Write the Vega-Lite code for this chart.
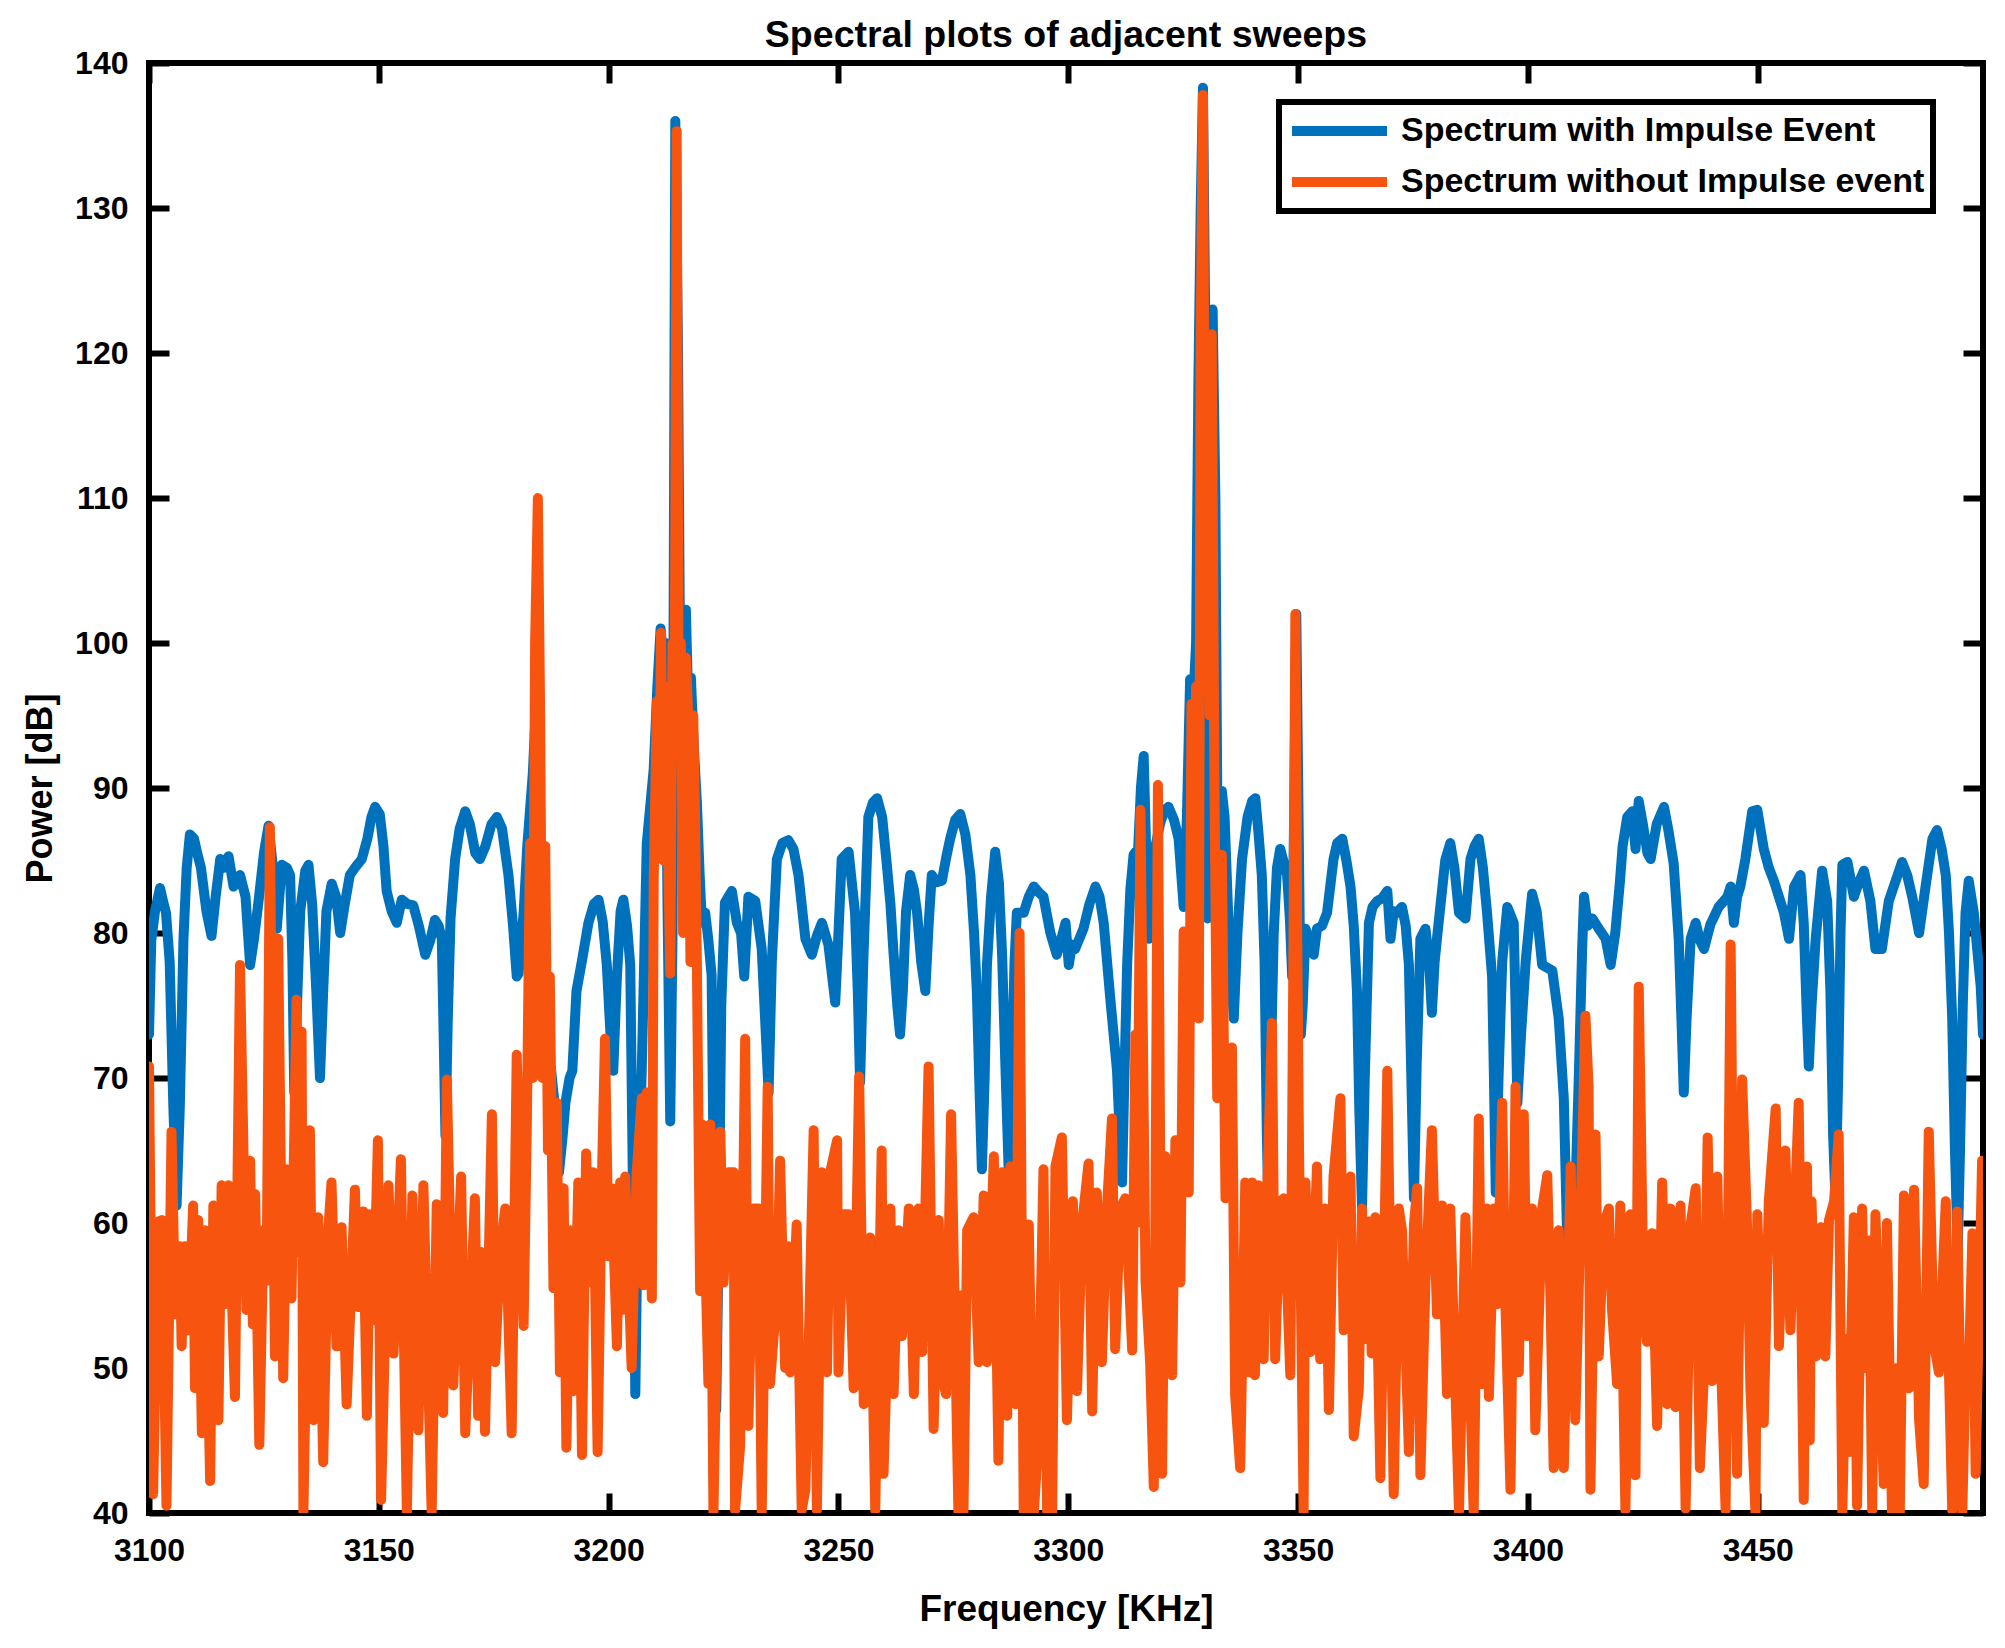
{
"$schema": "https://vega.github.io/schema/vega-lite/v6.json",
"width": 1834, "height": 1450,
"autosize": {"type": "none"},
"padding": {"left": 149, "top": 63, "right": 22, "bottom": 135},
"background": "white",
"title": {"text": "Spectral plots of adjacent sweeps", "fontSize": 37.5, "font": "Liberation Sans", "fontWeight": "bold", "color": "black", "anchor": "middle", "offset": -7},
"datasets": {
"blue": [
{"f":3100,"p":73},{"f":3100.5,"p":79.5},{"f":3101.3,"p":81.5},{"f":3102.4,"p":83.1},{"f":3103.2,"p":82},{"f":3103.7,"p":81.4},{"f":3104.5,"p":78},{"f":3105.3,"p":68},{"f":3106,"p":61.2},{"f":3106.7,"p":68},{"f":3107.5,"p":79.6},{"f":3108.2,"p":84.5},{"f":3108.9,"p":86.8},{"f":3109.8,"p":86.5},{"f":3110.5,"p":85.5},{"f":3111.3,"p":84.5},{"f":3112.5,"p":81.5},{"f":3113.6,"p":79.8},{"f":3114.5,"p":82.5},{"f":3115.5,"p":85.1},{"f":3116.4,"p":84.5},{"f":3117.3,"p":85.3},{"f":3118.4,"p":83.2},{"f":3119.8,"p":84},{"f":3121,"p":82.5},{"f":3122,"p":77.8},{"f":3122.8,"p":79.5},{"f":3123.8,"p":82.1},{"f":3125,"p":85.5},{"f":3126,"p":87.4},{"f":3126.8,"p":85},{"f":3127.8,"p":80.3},{"f":3128.9,"p":84.7},{"f":3130,"p":84.5},{"f":3130.7,"p":84},{"f":3131.2,"p":78},{"f":3131.6,"p":69},{"f":3132.2,"p":75},{"f":3132.9,"p":81.5},{"f":3134,"p":84.3},{"f":3134.7,"p":84.7},{"f":3135.5,"p":82},{"f":3136.4,"p":76},{"f":3137.2,"p":70},{"f":3137.9,"p":76},{"f":3138.6,"p":81.5},{"f":3139.75,"p":83.4},{"f":3140.7,"p":82.5},{"f":3141.6,"p":80},{"f":3142.6,"p":82},{"f":3143.7,"p":84},{"f":3144.8,"p":84.5},{"f":3146.3,"p":85.1},{"f":3147.5,"p":86.5},{"f":3148.4,"p":88},{"f":3149.2,"p":88.7},{"f":3150.2,"p":88.2},{"f":3151,"p":86},{"f":3151.7,"p":82.9},{"f":3152.8,"p":81.5},{"f":3153.9,"p":80.7},{"f":3155,"p":82.3},{"f":3156.2,"p":82},{"f":3157.5,"p":81.9},{"f":3158.7,"p":80.5},{"f":3160.1,"p":78.5},{"f":3161.2,"p":79.5},{"f":3162.2,"p":80.9},{"f":3163,"p":80.5},{"f":3163.7,"p":79.6},{"f":3164.1,"p":73},{"f":3164.5,"p":66},{"f":3165,"p":74},{"f":3165.6,"p":81},{"f":3166.6,"p":85.1},{"f":3167.6,"p":87.2},{"f":3168.8,"p":88.4},{"f":3169.8,"p":87.5},{"f":3171,"p":85.5},{"f":3172,"p":85.1},{"f":3173.2,"p":86},{"f":3174.5,"p":87.5},{"f":3175.7,"p":88},{"f":3176.8,"p":87.2},{"f":3178.2,"p":84},{"f":3179.2,"p":80.5},{"f":3180,"p":77},{"f":3180.4,"p":77.2},{"f":3181.5,"p":81.4},{"f":3182.3,"p":86},{"f":3182.9,"p":88.5},{"f":3183.5,"p":91},{"f":3184.1,"p":95},{"f":3184.6,"p":88},{"f":3185.2,"p":76},{"f":3185.8,"p":71},{"f":3186.6,"p":72.5},{"f":3187.5,"p":70.5},{"f":3188.3,"p":68},{"f":3189.2,"p":63.5},{"f":3190,"p":66},{"f":3190.6,"p":68.3},{"f":3191.5,"p":70},{"f":3192.1,"p":70.5},{"f":3193,"p":76},{"f":3194.2,"p":78.1},{"f":3195.6,"p":80.7},{"f":3196.8,"p":82},{"f":3197.8,"p":82.3},{"f":3198.7,"p":80.8},{"f":3199.6,"p":77.8},{"f":3200.4,"p":73},{"f":3201,"p":70.5},{"f":3201.8,"p":77},{"f":3202.6,"p":81.5},{"f":3203.2,"p":82.3},{"f":3204,"p":80.5},{"f":3204.7,"p":77.8},{"f":3205.3,"p":62},{"f":3205.8,"p":48.2},{"f":3206.3,"p":60},{"f":3207.2,"p":70.5},{"f":3208.3,"p":86.2},{"f":3209.8,"p":91.3},{"f":3210.6,"p":97},{"f":3211.3,"p":101},{"f":3211.8,"p":99},{"f":3212.3,"p":100},{"f":3212.8,"p":82},{"f":3213.4,"p":67},{"f":3213.9,"p":80},{"f":3214.5,"p":136},{"f":3215.1,"p":120},{"f":3215.6,"p":96},{"f":3216.2,"p":100},{"f":3216.8,"p":102.3},{"f":3217.3,"p":96},{"f":3217.9,"p":97.6},{"f":3218.5,"p":93},{"f":3219.2,"p":89},{"f":3219.8,"p":84},{"f":3220.3,"p":80.7},{"f":3221,"p":81.4},{"f":3221.7,"p":79.5},{"f":3222.4,"p":77.1},{"f":3222.9,"p":62},{"f":3223.4,"p":47.1},{"f":3224,"p":60},{"f":3224.5,"p":75},{"f":3225.3,"p":82.1},{"f":3226.8,"p":82.9},{"f":3227.9,"p":80.7},{"f":3228.8,"p":80},{"f":3229.5,"p":77},{"f":3230.4,"p":82.5},{"f":3231.9,"p":82.2},{"f":3233.3,"p":78.9},{"f":3234.2,"p":73},{"f":3234.8,"p":69},{"f":3235.5,"p":78},{"f":3236.6,"p":85.1},{"f":3237.8,"p":86.2},{"f":3239.1,"p":86.4},{"f":3240.2,"p":85.8},{"f":3241.3,"p":84},{"f":3242.8,"p":79.6},{"f":3244.2,"p":78.5},{"f":3245.3,"p":79.8},{"f":3246.4,"p":80.7},{"f":3247.8,"p":79.2},{"f":3249.3,"p":75.2},{"f":3250,"p":80},{"f":3250.7,"p":85.1},{"f":3252.2,"p":85.6},{"f":3253.6,"p":81.4},{"f":3254.2,"p":76},{"f":3254.7,"p":69.7},{"f":3255.4,"p":78},{"f":3256.5,"p":88},{"f":3257.5,"p":89},{"f":3258.4,"p":89.3},{"f":3259.5,"p":88},{"f":3260.5,"p":84.8},{"f":3261.3,"p":82},{"f":3262,"p":78.5},{"f":3262.8,"p":75},{"f":3263.4,"p":73},{"f":3264,"p":76},{"f":3264.7,"p":81.5},{"f":3265.6,"p":84},{"f":3266.4,"p":83},{"f":3267.1,"p":81.4},{"f":3268,"p":78},{"f":3268.9,"p":76},{"f":3269.6,"p":80.5},{"f":3270.3,"p":84},{"f":3271.4,"p":83.5},{"f":3272.5,"p":83.6},{"f":3273.5,"p":85.3},{"f":3274.3,"p":86.5},{"f":3275.4,"p":87.8},{"f":3276.5,"p":88.2},{"f":3277.6,"p":86.8},{"f":3278.7,"p":84},{"f":3279.5,"p":80},{"f":3280.1,"p":76},{"f":3280.7,"p":69},{"f":3281.2,"p":63.7},{"f":3281.8,"p":70},{"f":3282.3,"p":77.8},{"f":3283.2,"p":82.5},{"f":3284.1,"p":85.6},{"f":3284.9,"p":83.5},{"f":3285.6,"p":78.5},{"f":3286.3,"p":71},{"f":3287,"p":63.9},{"f":3287.7,"p":70},{"f":3288.3,"p":78},{"f":3288.8,"p":81.4},{"f":3290.3,"p":81.4},{"f":3291.4,"p":82.5},{"f":3292.5,"p":83.2},{"f":3293.6,"p":82.8},{"f":3294.6,"p":82.5},{"f":3296.1,"p":80},{"f":3297.5,"p":78.5},{"f":3298.4,"p":79.5},{"f":3299.4,"p":80.7},{"f":3300.1,"p":77.8},{"f":3300.8,"p":79.2},{"f":3301.5,"p":78.9},{"f":3303.3,"p":80.3},{"f":3304.6,"p":82},{"f":3305.9,"p":83.2},{"f":3306.8,"p":82.5},{"f":3307.7,"p":80.7},{"f":3309.1,"p":75.6},{"f":3310.6,"p":70.5},{"f":3311.2,"p":66},{"f":3311.7,"p":62.8},{"f":3312.2,"p":70},{"f":3312.8,"p":77.8},{"f":3313.5,"p":83},{"f":3314.2,"p":85.4},{"f":3315.2,"p":85.8},{"f":3315.8,"p":90},{"f":3316.4,"p":92.2},{"f":3317,"p":85},{"f":3317.5,"p":79.6},{"f":3318,"p":83},{"f":3318.6,"p":85.4},{"f":3320,"p":87.6},{"f":3321,"p":88.5},{"f":3321.8,"p":88.7},{"f":3323,"p":87.8},{"f":3324,"p":86.5},{"f":3325.1,"p":81.8},{"f":3325.8,"p":88},{"f":3326.5,"p":97.5},{"f":3327.2,"p":96},{"f":3327.8,"p":100},{"f":3328.3,"p":118},{"f":3328.8,"p":130},{"f":3329.3,"p":138.3},{"f":3329.8,"p":122},{"f":3330.3,"p":81},{"f":3330.8,"p":100},{"f":3331.4,"p":123},{"f":3332,"p":110},{"f":3332.5,"p":85},{"f":3333,"p":88},{"f":3333.4,"p":89.8},{"f":3334,"p":88},{"f":3334.9,"p":80.3},{"f":3335.5,"p":77},{"f":3336,"p":74.1},{"f":3336.8,"p":80},{"f":3337.8,"p":85.1},{"f":3339,"p":88},{"f":3340,"p":89.1},{"f":3340.7,"p":89.3},{"f":3341.4,"p":86.8},{"f":3342.1,"p":84},{"f":3342.7,"p":78},{"f":3343.2,"p":66},{"f":3343.5,"p":61.5},{"f":3344,"p":70},{"f":3344.7,"p":80},{"f":3345.4,"p":84.5},{"f":3346.1,"p":85.8},{"f":3347.6,"p":84},{"f":3348.2,"p":81},{"f":3348.7,"p":77},{"f":3349.2,"p":90},{"f":3349.6,"p":102},{"f":3350.1,"p":88},{"f":3350.6,"p":73},{"f":3351,"p":75},{"f":3351.6,"p":80.3},{"f":3352.5,"p":79.5},{"f":3353.4,"p":78.5},{"f":3354.1,"p":80.3},{"f":3355.2,"p":80.5},{"f":3356.3,"p":81.4},{"f":3357.7,"p":85.1},{"f":3358.5,"p":86.2},{"f":3359.6,"p":86.5},{"f":3360.5,"p":85},{"f":3361.4,"p":83.2},{"f":3362.1,"p":80.5},{"f":3362.8,"p":76},{"f":3363.3,"p":68},{"f":3363.9,"p":61},{"f":3364.5,"p":70},{"f":3365.4,"p":80.7},{"f":3366.2,"p":81.8},{"f":3367.2,"p":82.2},{"f":3368.3,"p":82.4},{"f":3369.4,"p":82.9},{"f":3370.1,"p":79.6},{"f":3370.8,"p":81.5},{"f":3371.5,"p":81.4},{"f":3372.6,"p":81.8},{"f":3373.4,"p":80.5},{"f":3374.1,"p":77.8},{"f":3374.7,"p":69},{"f":3375.2,"p":61.7},{"f":3375.8,"p":71},{"f":3376.6,"p":79.6},{"f":3377.7,"p":80.3},{"f":3378.5,"p":78},{"f":3379.1,"p":74.5},{"f":3379.7,"p":78},{"f":3380.2,"p":79.6},{"f":3381,"p":82},{"f":3382,"p":85},{"f":3383.1,"p":86.2},{"f":3384,"p":84.5},{"f":3385,"p":81.4},{"f":3386.4,"p":81},{"f":3387.5,"p":85.1},{"f":3388.4,"p":86},{"f":3389.3,"p":86.5},{"f":3390.2,"p":84.5},{"f":3391.1,"p":81.4},{"f":3392.2,"p":77},{"f":3392.6,"p":70},{"f":3393,"p":62.1},{"f":3393.6,"p":70},{"f":3394.4,"p":78},{"f":3395.5,"p":81.8},{"f":3396.9,"p":80.7},{"f":3397.3,"p":75},{"f":3397.7,"p":68.3},{"f":3398.5,"p":73},{"f":3399.5,"p":78},{"f":3400.9,"p":82.7},{"f":3401.9,"p":81.5},{"f":3403.1,"p":77.8},{"f":3405.3,"p":77.4},{"f":3406.7,"p":74.1},{"f":3407.8,"p":68.6},{"f":3408.6,"p":58},{"f":3409.3,"p":49.7},{"f":3410,"p":56},{"f":3410.5,"p":64},{"f":3411.1,"p":70.5},{"f":3411.8,"p":79},{"f":3412.2,"p":82.5},{"f":3413,"p":80.5},{"f":3414,"p":81},{"f":3415.4,"p":80.3},{"f":3416.9,"p":79.6},{"f":3418,"p":77.8},{"f":3419,"p":80},{"f":3420,"p":83.5},{"f":3420.6,"p":86},{"f":3421.6,"p":88},{"f":3422.7,"p":88.4},{"f":3423.4,"p":85.8},{"f":3424.1,"p":89.1},{"f":3425,"p":87.5},{"f":3426,"p":85.5},{"f":3426.7,"p":85.1},{"f":3428,"p":87.5},{"f":3429.6,"p":88.7},{"f":3430.6,"p":87},{"f":3431.7,"p":84.8},{"f":3432.8,"p":79.6},{"f":3433.4,"p":74},{"f":3433.9,"p":69},{"f":3434.5,"p":74},{"f":3435.4,"p":79.6},{"f":3436.5,"p":80.7},{"f":3437.4,"p":79.5},{"f":3438.3,"p":78.9},{"f":3439.7,"p":80.6},{"f":3441.5,"p":81.8},{"f":3442.6,"p":82.2},{"f":3443.4,"p":82.5},{"f":3444.1,"p":83.2},{"f":3444.8,"p":80.7},{"f":3445.5,"p":82.5},{"f":3446.2,"p":83.2},{"f":3447.3,"p":85.1},{"f":3448.8,"p":88.4},{"f":3449.9,"p":88.5},{"f":3451.3,"p":85.8},{"f":3452.4,"p":84.5},{"f":3453.5,"p":83.6},{"f":3455.7,"p":81.4},{"f":3456.8,"p":79.6},{"f":3457.9,"p":83.2},{"f":3459.3,"p":84},{"f":3460,"p":80.7},{"f":3460.6,"p":75},{"f":3461.1,"p":70.8},{"f":3461.7,"p":75},{"f":3462.6,"p":79.6},{"f":3464,"p":84.3},{"f":3465.1,"p":82.2},{"f":3465.8,"p":76},{"f":3466.4,"p":66},{"f":3466.9,"p":61.7},{"f":3467.5,"p":70},{"f":3468,"p":80},{"f":3468.4,"p":84.7},{"f":3469.5,"p":84.9},{"f":3470.9,"p":82.5},{"f":3472,"p":83.5},{"f":3473.1,"p":84.3},{"f":3474.5,"p":82.2},{"f":3475.6,"p":78.9},{"f":3477,"p":78.9},{"f":3478.5,"p":82.2},{"f":3480,"p":83.6},{"f":3481.4,"p":84.9},{"f":3482.5,"p":84},{"f":3483.6,"p":82.5},{"f":3485.1,"p":80},{"f":3486.5,"p":83.2},{"f":3488,"p":86.5},{"f":3489,"p":87.1},{"f":3490,"p":85.8},{"f":3490.9,"p":84},{"f":3491.6,"p":80},{"f":3492.3,"p":74.1},{"f":3492.9,"p":65},{"f":3493.5,"p":58.1},{"f":3494,"p":65},{"f":3494.6,"p":75},{"f":3495.2,"p":81.4},{"f":3495.9,"p":83.6},{"f":3497,"p":81.4},{"f":3498.5,"p":76.3},{"f":3499,"p":73}
],
"orange": [
{"f":3100,"p":70.8},{"f":3100.9,"p":41.3},{"f":3102,"p":60.1},{"f":3102.8,"p":60.2},{"f":3103.8,"p":40.5},{"f":3104.9,"p":66.3},{"f":3105.7,"p":53.7},{"f":3106.7,"p":58.4},{"f":3107.1,"p":51.5},{"f":3107.8,"p":58.4},{"f":3108.6,"p":52.6},{"f":3109.6,"p":61.2},{"f":3110,"p":48.6},{"f":3110.7,"p":60.2},{"f":3111.5,"p":45.5},{"f":3112.2,"p":59.5},{"f":3113.3,"p":42.2},{"f":3114,"p":61.2},{"f":3115.1,"p":46.4},{"f":3115.8,"p":62.6},{"f":3116.5,"p":54.4},{"f":3117.3,"p":62.6},{"f":3118.7,"p":48},{"f":3119.8,"p":77.8},{"f":3121.2,"p":54},{"f":3122,"p":64.3},{"f":3122.6,"p":53},{"f":3123.1,"p":62},{"f":3124,"p":44.7},{"f":3124.9,"p":59.5},{"f":3125.6,"p":56},{"f":3126.3,"p":87.3},{"f":3127.4,"p":50.8},{"f":3128.1,"p":79.6},{"f":3129.2,"p":49.3},{"f":3130,"p":63.7},{"f":3131,"p":54.8},{"f":3132.1,"p":75.4},{"f":3132.6,"p":58},{"f":3133.2,"p":73.2},{"f":3133.6,"p":40},{"f":3135,"p":66.4},{"f":3135.8,"p":46.4},{"f":3136.8,"p":60.4},{"f":3137.9,"p":43.5},{"f":3139,"p":59.5},{"f":3139.7,"p":62.8},{"f":3140.8,"p":51.5},{"f":3141.9,"p":59.7},{"f":3143,"p":47.5},{"f":3144.8,"p":62.3},{"f":3145.5,"p":54.2},{"f":3146.6,"p":60.8},{"f":3147.4,"p":46.7},{"f":3148.1,"p":60.6},{"f":3148.8,"p":53.3},{"f":3149.8,"p":65.7},{"f":3150.5,"p":40.9},{"f":3152.1,"p":62.6},{"f":3153.2,"p":51},{"f":3154.8,"p":64.4},{"f":3156.1,"p":40},{"f":3157.3,"p":61.9},{"f":3158.6,"p":45.7},{"f":3159.7,"p":62.6},{"f":3161.5,"p":40},{"f":3162.6,"p":61.3},{"f":3164,"p":46.9},{"f":3164.8,"p":69.9},{"f":3166.2,"p":48.8},{"f":3167.9,"p":63.2},{"f":3168.8,"p":45.5},{"f":3170.9,"p":61.7},{"f":3171.6,"p":46.7},{"f":3172.3,"p":58},{"f":3173.1,"p":45.6},{"f":3174.6,"p":67.5},{"f":3175.3,"p":50.4},{"f":3176.4,"p":58},{"f":3177.5,"p":61},{"f":3178.9,"p":45.5},{"f":3180,"p":71.6},{"f":3181.5,"p":52.9},{"f":3182.2,"p":66.8},{"f":3182.9,"p":86.2},{"f":3183.5,"p":70},{"f":3184,"p":100},{"f":3184.6,"p":110},{"f":3185.1,"p":95},{"f":3185.6,"p":70},{"f":3186.2,"p":86},{"f":3186.8,"p":65},{"f":3187.2,"p":77},{"f":3188,"p":55.5},{"f":3188.7,"p":68.3},{"f":3189.4,"p":49.7},{"f":3190.2,"p":62.4},{"f":3190.8,"p":44.5},{"f":3191.6,"p":59.5},{"f":3192.3,"p":48.4},{"f":3193.4,"p":62.8},{"f":3194.2,"p":44},{"f":3195.1,"p":64.8},{"f":3196,"p":55.9},{"f":3196.7,"p":63.5},{"f":3197.6,"p":44.2},{"f":3198.5,"p":62.6},{"f":3199.2,"p":72.7},{"f":3200,"p":57.7},{"f":3200.7,"p":62.4},{"f":3201.8,"p":51.5},{"f":3202.5,"p":62.8},{"f":3203,"p":54},{"f":3203.6,"p":63.2},{"f":3205,"p":50},{"f":3206.1,"p":63.5},{"f":3207.2,"p":68.6},{"f":3207.6,"p":55.7},{"f":3208.3,"p":69},{"f":3209.4,"p":54.8},{"f":3209.8,"p":83.6},{"f":3210.5,"p":96},{"f":3211,"p":88},{"f":3211.4,"p":100.7},{"f":3211.9,"p":85},{"f":3212.3,"p":97},{"f":3213.4,"p":77.2},{"f":3213.9,"p":100},{"f":3214.4,"p":99},{"f":3214.8,"p":135.3},{"f":3215.2,"p":98},{"f":3215.7,"p":100},{"f":3216.2,"p":80},{"f":3216.8,"p":99},{"f":3217.3,"p":95},{"f":3217.8,"p":78},{"f":3218.4,"p":95},{"f":3218.8,"p":88},{"f":3219.2,"p":77.8},{"f":3219.9,"p":55.3},{"f":3220.3,"p":66.8},{"f":3221.7,"p":48.9},{"f":3222.1,"p":66.8},{"f":3222.8,"p":40},{"f":3224.3,"p":66.3},{"f":3225,"p":55.9},{"f":3226.1,"p":63.5},{"f":3227.2,"p":63.5},{"f":3227.5,"p":40.2},{"f":3228.6,"p":44.6},{"f":3229.7,"p":72.7},{"f":3230.4,"p":46},{"f":3231.5,"p":61},{"f":3232.6,"p":61},{"f":3233.3,"p":40},{"f":3234.6,"p":69.4},{"f":3235.1,"p":48.9},{"f":3236.6,"p":55.1},{"f":3237.3,"p":64.3},{"f":3238.4,"p":50},{"f":3239.1,"p":58.4},{"f":3239.5,"p":49.7},{"f":3240.9,"p":59.9},{"f":3242,"p":40.2},{"f":3242.8,"p":41.6},{"f":3244.6,"p":66.4},{"f":3245.3,"p":40.2},{"f":3246.4,"p":63.5},{"f":3247.5,"p":49.7},{"f":3248.2,"p":63.5},{"f":3249.7,"p":65.7},{"f":3250,"p":49.7},{"f":3251.1,"p":60.6},{"f":3252.2,"p":60.6},{"f":3253.3,"p":48.6},{"f":3254.5,"p":70.1},{"f":3255.5,"p":47.5},{"f":3256.9,"p":59},{"f":3258,"p":40.2},{"f":3259.4,"p":65},{"f":3259.8,"p":42.7},{"f":3260.5,"p":50.2},{"f":3261.3,"p":61},{"f":3262,"p":48.2},{"f":3263.1,"p":59.5},{"f":3263.8,"p":52.2},{"f":3265.3,"p":61},{"f":3266.4,"p":48.2},{"f":3267.4,"p":61},{"f":3268.2,"p":51.1},{"f":3269.6,"p":70.8},{"f":3270.7,"p":45.8},{"f":3271.8,"p":60.2},{"f":3272.9,"p":48.9},{"f":3273.4,"p":48.2},{"f":3274.5,"p":67.5},{"f":3276.1,"p":40},{"f":3276.6,"p":55},{"f":3277.2,"p":40},{"f":3278,"p":59.5},{"f":3279.4,"p":60.4},{"f":3280.5,"p":50.4},{"f":3281.6,"p":61.9},{"f":3282.3,"p":50.4},{"f":3283.8,"p":64.6},{"f":3284.8,"p":43.6},{"f":3285.6,"p":63.5},{"f":3286.7,"p":46.7},{"f":3287.4,"p":63.9},{"f":3288.5,"p":47.5},{"f":3289.4,"p":80},{"f":3290.3,"p":40},{"f":3291.4,"p":59.9},{"f":3292.5,"p":40},{"f":3293.4,"p":44.6},{"f":3294.6,"p":63.7},{"f":3295.4,"p":40},{"f":3296,"p":55},{"f":3296.5,"p":40},{"f":3297.2,"p":63.9},{"f":3298.6,"p":65.9},{"f":3299.7,"p":46.4},{"f":3301,"p":61.5},{"f":3301.9,"p":48.4},{"f":3303,"p":59.9},{"f":3304.4,"p":64.1},{"f":3305.2,"p":47},{"f":3306.2,"p":62.1},{"f":3307.3,"p":50.4},{"f":3308.4,"p":61},{"f":3309.5,"p":67.2},{"f":3310.2,"p":51.3},{"f":3311.3,"p":61},{"f":3312.4,"p":61.7},{"f":3313.9,"p":51.2},{"f":3314.6,"p":73},{"f":3315,"p":60},{"f":3315.7,"p":88.5},{"f":3316.8,"p":56},{"f":3317.8,"p":50.4},{"f":3318.6,"p":41.8},{"f":3319.5,"p":90.2},{"f":3320.4,"p":42.7},{"f":3321.1,"p":64.6},{"f":3322.6,"p":49.5},{"f":3323.3,"p":65.7},{"f":3324.4,"p":55.9},{"f":3325.1,"p":80.1},{"f":3326.2,"p":62.1},{"f":3326.8,"p":95.8},{"f":3327.3,"p":80},{"f":3327.8,"p":97},{"f":3328.4,"p":74.1},{"f":3328.8,"p":121},{"f":3329.3,"p":137.8},{"f":3329.8,"p":100},{"f":3330.3,"p":121},{"f":3330.8,"p":95},{"f":3331.2,"p":121.3},{"f":3331.8,"p":90},{"f":3332.4,"p":68.6},{"f":3333.4,"p":85.4},{"f":3334.2,"p":61.7},{"f":3335.6,"p":72.1},{"f":3336.3,"p":48.1},{"f":3337.4,"p":43.1},{"f":3338.5,"p":62.8},{"f":3339.3,"p":49.7},{"f":3340,"p":62.8},{"f":3340.6,"p":49.5},{"f":3341.4,"p":62.6},{"f":3342.5,"p":50.6},{"f":3343.2,"p":61.3},{"f":3344.3,"p":73.8},{"f":3345,"p":50.6},{"f":3346.1,"p":61.5},{"f":3346.9,"p":61.7},{"f":3348.3,"p":49.5},{"f":3348.9,"p":75},{"f":3349.4,"p":102},{"f":3349.8,"p":80},{"f":3350.2,"p":65},{"f":3351.2,"p":40},{"f":3351.6,"p":62.8},{"f":3352.7,"p":51.1},{"f":3354.1,"p":63.9},{"f":3354.8,"p":50.6},{"f":3355.9,"p":61},{"f":3356.7,"p":47.1},{"f":3357.7,"p":63.2},{"f":3359.2,"p":68.6},{"f":3359.9,"p":52.6},{"f":3361.4,"p":63.2},{"f":3362.1,"p":45.3},{"f":3363.2,"p":48.5},{"f":3363.9,"p":61},{"f":3364.6,"p":52},{"f":3365.4,"p":60.1},{"f":3366,"p":51},{"f":3366.8,"p":60.4},{"f":3367.9,"p":42.4},{"f":3369.4,"p":70.5},{"f":3370.8,"p":41.3},{"f":3371.9,"p":61},{"f":3372.6,"p":59.5},{"f":3374.1,"p":44.2},{"f":3375.2,"p":59.9},{"f":3375.9,"p":62.4},{"f":3376.6,"p":42.6},{"f":3377.7,"p":55.9},{"f":3379.1,"p":66.4},{"f":3380.2,"p":53.7},{"f":3381.3,"p":61.2},{"f":3382.4,"p":48.2},{"f":3383.1,"p":61},{"f":3385,"p":40},{"f":3386.4,"p":60.4},{"f":3387.3,"p":50},{"f":3388.2,"p":40},{"f":3389.3,"p":67.2},{"f":3390,"p":48.9},{"f":3391.1,"p":61},{"f":3391.5,"p":48},{"f":3392.6,"p":61},{"f":3393.3,"p":54.4},{"f":3394.4,"p":68.3},{"f":3395.1,"p":54.4},{"f":3396.2,"p":41.6},{"f":3397.3,"p":69.4},{"f":3398,"p":49.7},{"f":3399.1,"p":67.5},{"f":3399.8,"p":52.2},{"f":3400.9,"p":61},{"f":3401.6,"p":45.7},{"f":3403.1,"p":61},{"f":3404.2,"p":63.3},{"f":3404.9,"p":54.8},{"f":3405.6,"p":43.1},{"f":3406.7,"p":59.5},{"f":3407.8,"p":43.1},{"f":3409.3,"p":63.9},{"f":3410.3,"p":46.4},{"f":3411.1,"p":55.9},{"f":3412.5,"p":74.3},{"f":3413.2,"p":69.4},{"f":3413.6,"p":41.6},{"f":3414.7,"p":66.1},{"f":3415.4,"p":50.8},{"f":3416.5,"p":59.9},{"f":3417.6,"p":61},{"f":3418.3,"p":54},{"f":3419.4,"p":48.9},{"f":3420.1,"p":61.2},{"f":3421.2,"p":40.2},{"f":3422.3,"p":60.6},{"f":3423.4,"p":42.6},{"f":3424.1,"p":76.3},{"f":3425.2,"p":54},{"f":3425.9,"p":51.8},{"f":3427,"p":59.3},{"f":3428.1,"p":46},{"f":3429.2,"p":62.8},{"f":3430.3,"p":47.5},{"f":3431,"p":61},{"f":3432.1,"p":47.3},{"f":3433.2,"p":61.2},{"f":3434.3,"p":40.3},{"f":3435.4,"p":59.9},{"f":3436.5,"p":62.4},{"f":3437.4,"p":43.1},{"f":3438.3,"p":49.7},{"f":3439.1,"p":65.9},{"f":3440.1,"p":49.1},{"f":3441.2,"p":63.2},{"f":3442,"p":50.4},{"f":3443,"p":40.2},{"f":3444.1,"p":79.2},{"f":3444.8,"p":54.4},{"f":3445.5,"p":42.7},{"f":3446.6,"p":69.9},{"f":3447.7,"p":59.5},{"f":3448.4,"p":48.6},{"f":3449.5,"p":40},{"f":3449.9,"p":60.6},{"f":3451.3,"p":46.2},{"f":3452.4,"p":61.5},{"f":3453.9,"p":67.9},{"f":3454.6,"p":51.5},{"f":3456,"p":65},{"f":3457.1,"p":52.6},{"f":3458.9,"p":68.3},{"f":3460,"p":40.9},{"f":3460.7,"p":63.9},{"f":3461.3,"p":45},{"f":3461.7,"p":61.5},{"f":3462.6,"p":50.8},{"f":3463.7,"p":59.7},{"f":3464.7,"p":50.8},{"f":3465.5,"p":60.2},{"f":3466.6,"p":61.5},{"f":3467.6,"p":66.1},{"f":3468.4,"p":40},{"f":3469.2,"p":52},{"f":3469.8,"p":44.2},{"f":3470.9,"p":60.4},{"f":3471.6,"p":40.5},{"f":3472.7,"p":61},{"f":3473.4,"p":50},{"f":3474.2,"p":58.8},{"f":3474.9,"p":40.2},{"f":3475.6,"p":60.6},{"f":3476.5,"p":52},{"f":3477.4,"p":42},{"f":3478.1,"p":60},{"f":3479.2,"p":40},{"f":3480.3,"p":50},{"f":3480.9,"p":40},{"f":3481.8,"p":61.9},{"f":3482.9,"p":48.6},{"f":3484,"p":62.3},{"f":3485.1,"p":46.4},{"f":3486.1,"p":42},{"f":3487.2,"p":66.3},{"f":3488.3,"p":51.8},{"f":3489.4,"p":49.7},{"f":3490.9,"p":61.5},{"f":3491.6,"p":49.7},{"f":3492.3,"p":40.2},{"f":3493.4,"p":60.8},{"f":3494.5,"p":40},{"f":3495.2,"p":50},{"f":3496,"p":50.8},{"f":3496.7,"p":59.3},{"f":3497.4,"p":42.7},{"f":3498.8,"p":64.3},{"f":3499,"p":56.6}
]
},
"layer": [
{"data": {"name": "blue"},
 "mark": {"type": "line", "strokeWidth": 10, "strokeJoin": "round", "strokeCap": "round", "clip": true},
 "encoding": {
  "x": {"field": "f", "type": "quantitative", "scale": {"domain": [3100, 3499], "nice": false, "zero": false},
        "axis": {"orient": "bottom", "title": "Frequency [KHz]", "titleFontSize": 37, "values": [3100,3150,3200,3250,3300,3350,3400,3450], "format": "d", "tickSize": -20, "labelPadding": 42, "titlePadding": 25}},
  "y": {"field": "p", "type": "quantitative", "scale": {"domain": [40, 140], "nice": false, "zero": false},
        "axis": {"orient": "left", "title": "Power [dB]", "values": [40,50,60,70,80,90,100,110,120,130,140], "tickSize": -20, "labelPadding": 41, "titlePadding": 15}},
  "color": {"datum": "Spectrum with Impulse Event", "type": "nominal",
            "scale": {"domain": ["Spectrum with Impulse Event", "Spectrum without Impulse event"], "range": ["#0072BD", "#F7540F"]},
            "legend": {"title": null, "orient": "none", "legendX": 1130, "legendY": 39, "symbolType": "stroke", "symbolSize": 9025, "symbolStrokeWidth": 10, "clipHeight": 42, "rowPadding": 9, "padding": 8, "labelOffset": 9, "labelLimit": 1000}}
 }},
{"data": {"name": "orange"},
 "mark": {"type": "line", "strokeWidth": 10, "strokeJoin": "round", "strokeCap": "round", "clip": true},
 "encoding": {
  "x": {"field": "f", "type": "quantitative", "scale": {"domain": [3100, 3499], "nice": false, "zero": false},
        "axis": {"orient": "top", "labels": false, "title": null, "values": [3100,3150,3200,3250,3300,3350,3400,3450], "tickSize": -20}},
  "y": {"field": "p", "type": "quantitative", "scale": {"domain": [40, 140], "nice": false, "zero": false},
        "axis": {"orient": "right", "labels": false, "title": null, "values": [40,50,60,70,80,90,100,110,120,130,140], "tickSize": -20}},
  "color": {"datum": "Spectrum without Impulse event", "type": "nominal"}
 }}
],
"resolve": {"axis": {"x": "independent", "y": "independent"}},
"config": {
 "font": "Liberation Sans",
 "view": {"stroke": "black", "strokeWidth": 6},
 "axis": {"domain": false, "grid": false, "labelFont": "Liberation Sans", "labelFontSize": 32, "labelFontWeight": "bold", "labelColor": "black", "tickColor": "black", "tickWidth": 6, "titleFont": "Liberation Sans", "titleFontSize": 36, "titleFontWeight": "bold", "titleColor": "black", "labelFlush": false, "labelOverlap": false},
 "legend": {"strokeColor": "black", "strokeWidth": 6, "fillColor": "white", "labelFont": "Liberation Sans", "labelFontSize": 34, "labelFontWeight": "bold", "labelColor": "black"}
}
}
